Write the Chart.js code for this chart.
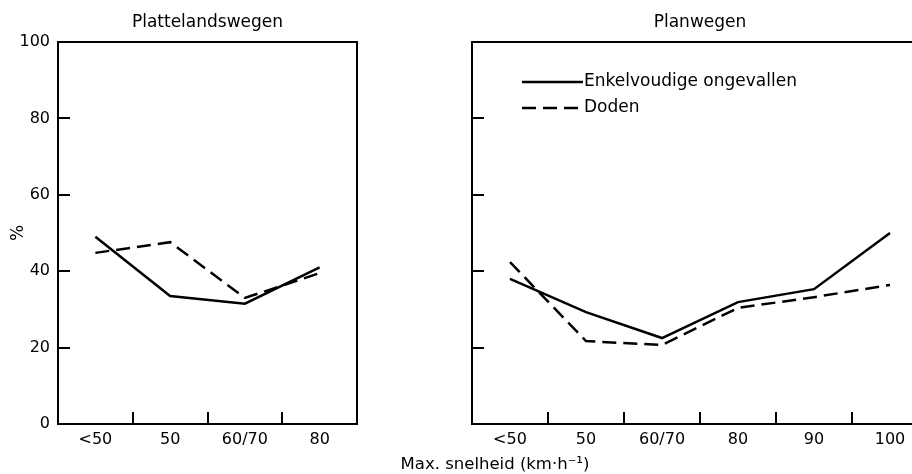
<!DOCTYPE html>
<html><head><meta charset="utf-8">
<script src="https://cdn.jsdelivr.net/npm/chart.js@4"></script>
<style>
html,body{margin:0;padding:0;width:912px;height:474px;overflow:hidden;background:#fff;}
canvas{position:absolute;top:0;}
#c1{left:0;}
#c2{left:440px;}
#xt{position:absolute;left:495px;top:454px;transform:translateX(-50%);font:16.5px "DejaVu Sans";white-space:nowrap;color:#000;}
</style></head><body>
<canvas id="c1" width="412" height="474"></canvas>
<canvas id="c2" width="504" height="474"></canvas>
<div id="xt">Max. snelheid (km·h⁻¹)</div>
<script>
const speedRural = ['<50', '50', '60/70', '80'];
const speedPlan = ['<50', '50', '60/70', '80', '90', '100'];
const ruralSingle = [49, 33.5, 31.5, 41];
const ruralDeaths = [44.8, 47.6, 33, 39.5];
const planSingle = [38, 29.3, 22.5, 31.9, 35.3, 50];
const planDeaths = [42.4, 21.7, 20.7, 30.4, 33.2, 36.4];
const yTicks = [0, 20, 40, 60, 80, 100];
const seriesLabels = ['Enkelvoudige ongevallen', 'Doden'];
const panelTitles = ['Plattelandswegen', 'Planwegen'];

Chart.defaults.font.family = '"DejaVu Sans", sans-serif';
Chart.defaults.font.size = 16;
Chart.defaults.color = '#000';

const frame = {
  id: 'frame',
  afterDraw(chart) {
    const {ctx, chartArea: a} = chart;
    ctx.save();
    ctx.strokeStyle = '#000';
    ctx.lineWidth = 2;
    ctx.strokeRect(a.left, a.top, a.right - a.left, a.bottom - a.top);
    ctx.restore();
  }
};

const inLegend = {
  id: 'inLegend',
  afterDraw(chart, args, opts) {
    if (!opts.show) return;
    const {ctx, chartArea: a} = chart;
    ctx.save();
    ctx.font = '17px "DejaVu Sans", sans-serif';
    ctx.fillStyle = '#000';
    ctx.textBaseline = 'middle';
    chart.data.datasets.forEach((ds, i) => {
      const y = a.top + 40 + i * 26;
      const x1 = a.left + 50, x2 = a.left + 111;
      ctx.strokeStyle = '#000';
      ctx.lineWidth = 2.5;
      ctx.setLineDash(ds.borderDash || []);
      ctx.beginPath(); ctx.moveTo(x1, y); ctx.lineTo(x2, y); ctx.stroke();
      ctx.setLineDash([]);
      ctx.fillText(ds.label, x2 + 1, y);
    });
    ctx.restore();
  }
};

function makeChart(id, labels, single, deaths, title, cfg) {
  return new Chart(document.getElementById(id), {
    type: 'line',
    data: {
      labels: labels,
      datasets: [
        {label: seriesLabels[0], data: single, borderColor: '#000', borderWidth: 2.5, pointRadius: 0, tension: 0, fill: false},
        {label: seriesLabels[1], data: deaths, borderColor: '#000', borderWidth: 2.5, borderDash: [14, 7], pointRadius: 0, tension: 0, fill: false}
      ]
    },
    options: {
      responsive: false,
      animation: false,
      devicePixelRatio: 1,
      layout: {padding: {top: 0, right: cfg.padRight, bottom: 0, left: 0}},
      plugins: {
        legend: {display: false},
        tooltip: {enabled: false},
        title: {display: true, text: title, fullSize: false, font: {size: 17, weight: 'normal'}, padding: {top: 12, bottom: 9.6}, color: '#000'},
        inLegend: {show: cfg.legend}
      },
      scales: {
        x: {
          type: 'category',
          offset: true,
          grid: {offset: true, drawOnChartArea: false, tickLength: -12, color: '#000', lineWidth: 2},
          border: {display: true, color: '#000', width: 2},
          ticks: {padding: 18.4, maxRotation: 0, autoSkip: false, font: {size: 16}},
          afterFit: s => { s.height = 50; }
        },
        y: {
          min: 0, max: 100,
          afterBuildTicks: s => { s.ticks = yTicks.map(v => ({value: v})); },
          grid: {drawOnChartArea: false, tickLength: -12, color: '#000', lineWidth: 2},
          border: {display: true, color: '#000', width: 2},
          ticks: {display: cfg.yLabels, padding: 20, font: {size: 16}},
          title: {display: cfg.yTitle, text: '%', font: {size: 17}, padding: {top: 8, bottom: 0}},
          afterFit: s => { s.width = cfg.yWidth; }
        }
      }
    },
    plugins: [frame, inLegend]
  });
}

makeChart('c1', speedRural, ruralSingle, ruralDeaths, panelTitles[0], {yWidth: 58, padRight: 55, yLabels: true, yTitle: true, legend: false});
makeChart('c2', speedPlan, planSingle, planDeaths, panelTitles[1], {yWidth: 32, padRight: 16, yLabels: false, yTitle: false, legend: true});
</script>
</body></html>
